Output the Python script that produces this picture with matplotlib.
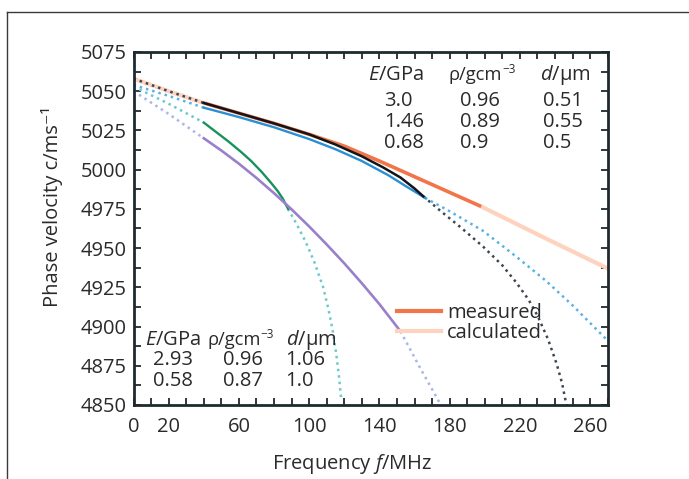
import matplotlib
matplotlib.use("Agg")
import matplotlib.pyplot as plt
from matplotlib.lines import Line2D
from matplotlib.ticker import FixedLocator, MultipleLocator

plt.rcParams["font.family"] = ["Open Sans", "DejaVu Sans"]
plt.rcParams["mathtext.fontset"] = "custom"
plt.rcParams["mathtext.rm"] = "Open Sans"
plt.rcParams["mathtext.it"] = "Open Sans:italic"

# measured dispersion curves (MHz, m/s)
orange_f = [40, 60, 80, 100, 120, 140, 160, 180, 198]
orange_c = [5042.5, 5036, 5029.5, 5022.5, 5015, 5005.5, 4995.5, 4985.5, 4976.5]
black_f = [40, 60, 80, 100, 115, 130, 142, 152, 160, 165]
black_c = [5042.5, 5036, 5029.5, 5022.5, 5016, 5008.5, 5001.5, 4995, 4988, 4983]
blue_f = [40, 60, 80, 100, 115, 130, 145, 155, 166]
blue_c = [5039.5, 5033.5, 5027, 5019.5, 5013, 5005.5, 4996.5, 4989.5, 4982]
green_f = [40, 47, 54, 61, 67, 73, 78, 82, 85, 88]
green_c = [5030, 5024, 5018, 5011.5, 5005.5, 4998.5, 4992, 4986.5, 4981.5, 4975]
purple_f = [40, 50, 60, 70, 80, 90, 100, 110, 120, 130, 140, 152]
purple_c = [5020, 5012.2, 5003.8, 4994.7, 4985, 4974.7, 4963.8, 4952.3,
            4940.3, 4927.6, 4914.3, 4897]

# calculated curves: low-frequency part and high-frequency part
low_f = [0, 20, 40]
orange_low_c = [5058, 5050, 5042.5]
black_low_c = [5058, 5050, 5042.5]
blue_low_c = [5054, 5047, 5039.5]
green_low_c = [5053, 5042, 5030]
purple_low_c = [5050, 5035.5, 5020]

orange_hi_f = [198, 235, 270]
orange_hi_c = [4976.5, 4956, 4937]
black_hi_f = [165, 175, 186, 199, 210, 218, 225, 230, 236, 241, 244, 246.5]
black_hi_c = [4983, 4973.5, 4963.5, 4951, 4939, 4928, 4917, 4907, 4892, 4876, 4864, 4850]
blue_hi_f = [166, 180, 199, 218, 235, 250, 262, 270]
blue_hi_c = [4982, 4973.5, 4961, 4944.5, 4929, 4913.5, 4900, 4891]
green_hi_f = [88, 93, 98, 103, 108, 111, 113.5, 115.5, 117, 118.3]
green_hi_c = [4975, 4965, 4954, 4941, 4925, 4911, 4897, 4882, 4868, 4853]
purple_hi_f = [152, 163, 175]
purple_hi_c = [4897, 4874, 4850]

x_labels = [0, 20, 60, 100, 140, 180, 220, 260]

table_top = [["3.0", "0.96", "0.51"],
             ["1.46", "0.89", "0.55"],
             ["0.68", "0.9", "0.5"]]
table_bottom = [["2.93", "0.96", "1.06"],
                ["0.58", "0.87", "1.0"]]

ORANGE = "#f27449"
PEACH = "#fdd3c0"
BLACK = "#111418"
BLUE = "#2a8fd4"
GREEN = "#18925c"
PURPLE = "#9a80cc"
TEXT = "#2a2a2a"
AXIS = "#1e2a30"
FS = 14.5

fig = plt.figure(figsize=(6.89, 4.79), dpi=100, facecolor="white")
ax = fig.add_axes([0.1938, 0.1545, 0.6882, 0.737])

dots = dict(linestyle=(0, (1, 1.6)), linewidth=1.8)

# calculated (light / dotted)
ax.plot(low_f, orange_low_c, color=PEACH, lw=3.0, solid_capstyle="butt")
ax.plot(orange_hi_f, orange_hi_c, color=PEACH, lw=3.0, solid_capstyle="butt")
ax.plot(low_f, black_low_c, color="#3a4652", **dots)
ax.plot(black_hi_f, black_hi_c, color="#3a4652", **dots)
ax.plot(low_f, blue_low_c, color="#58b2e6", **dots)
ax.plot(blue_hi_f, blue_hi_c, color="#58b2e6", **dots)
ax.plot(low_f, green_low_c, color="#6cc9cf", **dots)
ax.plot(green_hi_f, green_hi_c, color="#6cc9cf", **dots)
ax.plot(low_f, purple_low_c, color="#a9b6ea", **dots)
ax.plot(purple_hi_f, purple_hi_c, color="#a9b6ea", **dots)

# measured (solid)
ax.plot(orange_f, orange_c, color=ORANGE, lw=2.6, solid_capstyle="butt")
ax.plot(blue_f, blue_c, color=BLUE, lw=1.7)
ax.plot(black_f, black_c, color=BLACK, lw=1.8)
ax.plot(green_f, green_c, color=GREEN, lw=1.7)
ax.plot(purple_f, purple_c, color=PURPLE, lw=1.9)

ax.set_xlim(0, 270)
ax.set_ylim(4850, 5075)

ax.xaxis.set_major_locator(FixedLocator(x_labels))
ax.xaxis.set_minor_locator(MultipleLocator(10))
ax.yaxis.set_major_locator(MultipleLocator(25))
ax.yaxis.set_minor_locator(MultipleLocator(12.5))
ax.tick_params(which="both", direction="in", top=True, right=True,
               length=5, width=1.3, color=AXIS)
ax.tick_params(axis="x", which="major", pad=9, labelsize=FS, labelcolor=TEXT)
ax.tick_params(axis="y", which="major", pad=5, labelsize=FS, labelcolor=TEXT)
for spine in ax.spines.values():
    spine.set_linewidth(2.0)
    spine.set_color(AXIS)

ax.set_xlabel("Frequency $f$/MHz", fontsize=FS, color=TEXT)
ax.set_ylabel("Phase velocity c/ms⁻¹", fontsize=FS, color=TEXT)
ax.xaxis.set_label_coords(0.462, -0.132)
ax.yaxis.set_label_coords(-0.149, 0.561)


def table_header(y, xs):
    kw = dict(transform=ax.transAxes, color=TEXT, va="center")
    ax.text(xs[0], y, "$E$/GPa", fontsize=FS, **kw)
    rho = ax.text(xs[1], y, "ρ/gcm", fontsize=13.2, **kw)
    ax.annotate("−3", xy=(1.0, 0.8), xycoords=rho, fontsize=8.5,
                color=TEXT, ha="left", va="center")
    ax.text(xs[2], y, "$d$/µm", fontsize=FS, **kw)


def table_rows(rows, ys, xs):
    for r, row in enumerate(rows):
        for c, txt in enumerate(row):
            ax.text(xs[c], ys[r], txt, transform=ax.transAxes, fontsize=FS,
                    color=TEXT, ha="left", va="center")


# parameter tables
table_header(0.935, [0.4945, 0.665, 0.857])
table_rows(table_top, [0.861, 0.802, 0.742], [0.528, 0.688, 0.864])
table_header(0.184, [0.0243, 0.155, 0.321])
table_rows(table_bottom, [0.1275, 0.068], [0.041, 0.189, 0.319])

handles = [Line2D([], [], color=ORANGE, lw=3.0),
           Line2D([], [], color=PEACH, lw=3.0)]
ax.legend(handles, ["measured", "calculated"], loc="upper left",
          bbox_to_anchor=(0.555, 0.29), frameon=False, fontsize=FS,
          handlelength=2.2, handletextpad=0.3, labelspacing=0.0,
          borderpad=0, borderaxespad=0, labelcolor=TEXT)

# outer frame (top and left edges)
fig.add_artist(Line2D([7 / 689, 1], [1 - 12 / 479, 1 - 12 / 479],
                      transform=fig.transFigure, color="#3a3a3a", lw=1.0))
fig.add_artist(Line2D([7 / 689, 7 / 689], [0, 1 - 12 / 479],
                      transform=fig.transFigure, color="#3a3a3a", lw=1.0))

fig.savefig("out.png", dpi=100, facecolor="white")
